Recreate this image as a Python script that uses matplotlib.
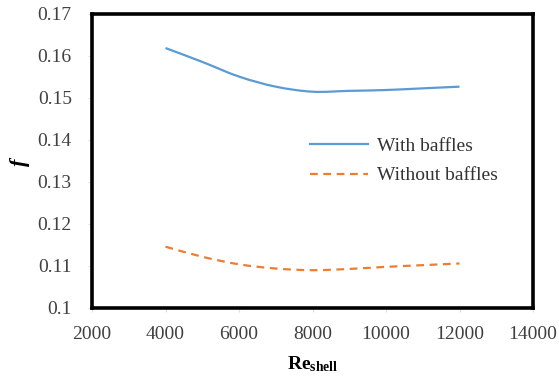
import matplotlib.pyplot as plt
from matplotlib.path import Path
from matplotlib.patches import PathPatch
from matplotlib.lines import Line2D

re_shell = [4000, 5000, 6000, 7000, 8000, 9000, 10000, 11000, 12000]
f_with = [0.1619, 0.1586, 0.1551, 0.1527, 0.1515, 0.1517, 0.1519, 0.1523, 0.1527]
f_without = [0.1146, 0.1122, 0.1104, 0.1094, 0.1090, 0.1093, 0.1098, 0.1102, 0.1106]

plt.rcParams['font.family'] = ['Liberation Serif', 'DejaVu Serif']
plt.rcParams['mathtext.fontset'] = 'custom'
plt.rcParams['mathtext.rm'] = 'Liberation Serif'
plt.rcParams['mathtext.bf'] = 'Liberation Serif:bold'
plt.rcParams['mathtext.it'] = 'Liberation Serif:bold:italic'


def smooth_path(xs, ys):
    # Excel-like smoothed line: catmull-rom through the points as bezier segments
    verts = [(xs[0], ys[0])]
    codes = [Path.MOVETO]
    n = len(xs)
    for i in range(n - 1):
        x0, y0 = (xs[i - 1], ys[i - 1]) if i > 0 else (xs[i], ys[i])
        x1, y1 = xs[i], ys[i]
        x2, y2 = xs[i + 1], ys[i + 1]
        x3, y3 = (xs[i + 2], ys[i + 2]) if i + 2 < n else (x2, y2)
        c1 = (x1 + (x2 - x0) / 6, y1 + (y2 - y0) / 6)
        c2 = (x2 - (x3 - x1) / 6, y2 - (y3 - y1) / 6)
        verts += [c1, c2, (x2, y2)]
        codes += [Path.CURVE4] * 3
    return Path(verts, codes)


fig = plt.figure(figsize=(5.59, 3.80), dpi=100)
ax = fig.add_axes([92 / 559, 1 - 308 / 380, 441 / 559, 294 / 380])

blue = '#5B9BD5'
orange = '#ED7D31'
dash = (0, (3.5, 2.5))
ax.add_patch(PathPatch(smooth_path(re_shell, f_with), fill=False, edgecolor=blue, lw=1.6))
ax.add_patch(PathPatch(smooth_path(re_shell, f_without), fill=False, edgecolor=orange, lw=1.6, ls=dash))

ax.set_xlim(2000, 14000)
ax.set_ylim(0.1, 0.17)
ax.set_xticks(range(2000, 14001, 2000))
ax.set_yticks([0.1, 0.11, 0.12, 0.13, 0.14, 0.15, 0.16, 0.17])
ax.set_yticklabels(['0.1', '0.11', '0.12', '0.13', '0.14', '0.15', '0.16', '0.17'])
ax.tick_params(axis='y', length=3, width=0.8, color='#e0e0e0', labelsize=14, labelcolor='#404040', pad=11.5)
ax.tick_params(axis='x', length=3, width=0.8, color='#e0e0e0', labelsize=14, labelcolor='#404040', pad=10)

for s in ax.spines.values():
    s.set_linewidth(2.6)
    s.set_color('black')

ax.set_xlabel(r'$\mathbf{Re}_{\mathbf{shell}}$', fontsize=14, labelpad=8)
ax.set_ylabel(r'$\mathit{f}$', fontsize=16, labelpad=4)

handles = [Line2D([], [], color=blue, lw=1.6), Line2D([], [], color=orange, lw=1.6, ls=dash)]
ax.legend(handles, ['With baffles', 'Without baffles'], loc='center left',
          bbox_to_anchor=(0.494, 0.50), frameon=False, fontsize=14,
          borderpad=0, borderaxespad=0, handlelength=3.0, handletextpad=0.45,
          labelspacing=0.6, labelcolor='#333333')

fig.savefig('out.png', dpi=100)
